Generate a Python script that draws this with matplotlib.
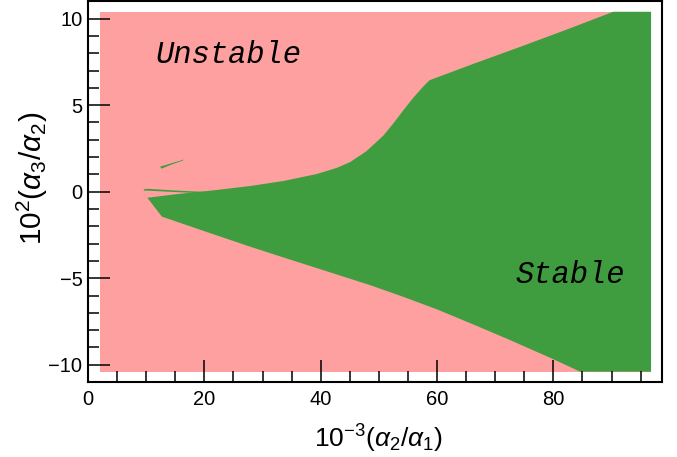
import matplotlib
matplotlib.use("Agg")
import matplotlib.pyplot as plt
from matplotlib.ticker import MultipleLocator

plt.rcParams["font.family"] = ["Liberation Sans", "DejaVu Sans"]
plt.rcParams["mathtext.fontset"] = "custom"
plt.rcParams["mathtext.rm"] = "Liberation Sans"
plt.rcParams["mathtext.it"] = "Liberation Sans:italic"

# scanned domain (everything inside is unstable unless covered by the stable region)
scan_x = [2.0, 96.8]
scan_y = [-10.4, 10.4]

# upper edge of the stable region, left to right
upper_x = [10.2, 15.0, 21.6, 27.9, 33.6, 39.3, 42.8, 45.1, 47.9, 50.8, 52.5, 54.2,
           55.9, 57.7, 58.7, 66.5, 74.3, 82.3, 90.3]
upper_y = [-0.35, -0.15, 0.08, 0.33, 0.62, 1.02, 1.38, 1.72, 2.35, 3.25, 3.95, 4.70,
           5.42, 6.10, 6.44, 7.42, 8.37, 9.37, 10.4]

# lower edge of the stable region, left to right
lower_x = [10.2, 12.7, 20.0, 27.9, 35.0, 42.0, 48.5, 54.0, 60.0, 66.8, 72.6, 80.0, 84.6]
lower_y = [-0.35, -1.44, -2.28, -3.18, -3.95, -4.70, -5.40, -6.05, -6.80, -7.75,
           -8.58, -9.68, -10.4]

# thin stable slivers near the tip
sliver1_x = [9.6, 10.2, 15.0, 20.5, 21.0, 20.5, 15.0, 10.2, 9.6]
sliver1_y = [0.14, 0.17, 0.07, -0.02, -0.06, -0.10, -0.02, 0.06, 0.06]
sliver2_x = [12.4, 14.5, 16.5, 16.3, 14.3, 12.6]
sliver2_y = [1.45, 1.66, 1.86, 1.80, 1.56, 1.33]

PINK = "#ffa0a0"
GREEN = "#3f9d40"

fig = plt.figure(figsize=(6.77, 4.57), dpi=100)
ax = fig.add_axes([0.130, 0.164, 0.848, 0.833])

ax.fill([scan_x[0], scan_x[1], scan_x[1], scan_x[0]],
        [scan_y[0], scan_y[0], scan_y[1], scan_y[1]], color=PINK, lw=0)

poly_x = upper_x + [scan_x[1], scan_x[1]] + lower_x[::-1]
poly_y = upper_y + [scan_y[1], scan_y[0]] + lower_y[::-1]
ax.fill(poly_x, poly_y, color=GREEN, lw=0)
ax.fill(sliver1_x, sliver1_y, color=GREEN, lw=0)
ax.fill(sliver2_x, sliver2_y, color=GREEN, lw=0)

ax.text(11.6, 7.9, "Unstable", family="Liberation Mono", style="italic",
        fontsize=22, ha="left", va="center")
ax.text(73.5, -4.8, "Stable", family="Liberation Mono", style="italic",
        fontsize=22, ha="left", va="center")

ax.set_xlim(0, 98.7)
ax.set_ylim(-11, 11)
ax.xaxis.set_major_locator(MultipleLocator(20))
ax.xaxis.set_minor_locator(MultipleLocator(5))
ax.yaxis.set_major_locator(MultipleLocator(5))
ax.yaxis.set_minor_locator(MultipleLocator(1))
ax.tick_params(which="both", direction="in", top=False, right=False, width=1.1,
               labelsize=14.5)
ax.tick_params(which="major", length=16)
ax.tick_params(which="minor", length=8)
ax.tick_params(axis="x", pad=6)
ax.tick_params(axis="y", pad=4)
for s in ax.spines.values():
    s.set_linewidth(1.5)

ax.set_xlabel(r"$10^{-3}(\alpha_2/\alpha_1)$", fontsize=19, va="center")
ax.xaxis.set_label_coords(0.505, -0.15)
ax.set_ylabel(r"$10^{2}(\alpha_3/\alpha_2)$", fontsize=21.5, va="center")
ax.yaxis.set_label_coords(-0.097, 0.535)

fig.savefig("out.png", dpi=100)
